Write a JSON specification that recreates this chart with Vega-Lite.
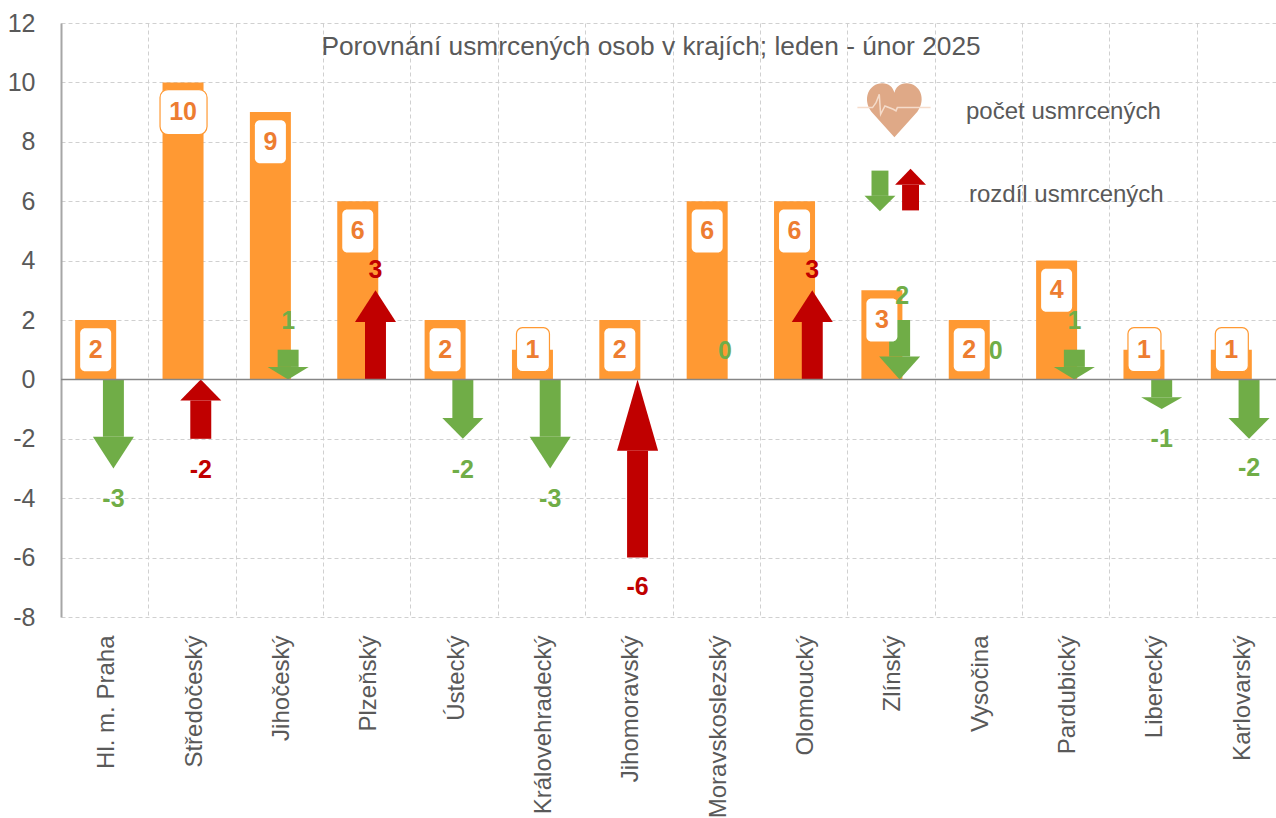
{"$schema":"https://vega.github.io/schema/vega-lite/v6.json","width":1215,"height":594,"autosize":"none","padding":{"left":61,"top":23,"right":0,"bottom":201},"background":"white","config":{"view":{"stroke":null},"font":"Liberation Sans"},
"datasets":{
"regions":[
{"region":"Hl. m. Praha","count":2,"boxY":1,"kind":"plain"},
{"region":"Středočeský","count":10,"boxY":9,"kind":"wide"},
{"region":"Jihočeský","count":9,"boxY":8,"kind":"plain"},
{"region":"Plzeňský","count":6,"boxY":5,"kind":"plain"},
{"region":"Ústecký","count":2,"boxY":1,"kind":"plain"},
{"region":"Královehradecký","count":1,"boxY":1,"kind":"ring"},
{"region":"Jihomoravský","count":2,"boxY":1,"kind":"plain"},
{"region":"Moravskoslezský","count":6,"boxY":5,"kind":"plain"},
{"region":"Olomoucký","count":6,"boxY":5,"kind":"plain"},
{"region":"Zlínský","count":3,"boxY":2,"kind":"plain"},
{"region":"Vysočina","count":2,"boxY":1,"kind":"plain"},
{"region":"Pardubický","count":4,"boxY":3,"kind":"plain"},
{"region":"Liberecký","count":1,"boxY":1,"kind":"ring"},
{"region":"Karlovarský","count":1,"boxY":1,"kind":"ring"}],
"arrows":[
{"id":"a0","dir":"down","diff":-3,"lx":0.6,"ly":-4.03,"sl":0.48,"sr":0.72,"base":0,"neck":-1.93,"hx":[0.365,0.6,0.835],"edge":[-1.93,-3,-1.93]},
{"id":"a1","dir":"up","diff":-2,"lx":1.6,"ly":-3.05,"sl":1.48,"sr":1.72,"base":-2,"neck":-0.71,"hx":[1.365,1.6,1.835],"edge":[-0.71,0,-0.71]},
{"id":"a2","dir":"down","diff":1,"lx":2.6,"ly":1.97,"sl":2.48,"sr":2.72,"base":1,"neck":0.42,"hx":[2.365,2.6,2.835],"edge":[0.42,0,0.42]},
{"id":"a3","dir":"up","diff":3,"lx":3.6,"ly":3.7,"sl":3.48,"sr":3.72,"base":0,"neck":1.93,"hx":[3.365,3.6,3.835],"edge":[1.93,3,1.93]},
{"id":"a4","dir":"down","diff":-2,"lx":4.6,"ly":-3.05,"sl":4.48,"sr":4.72,"base":0,"neck":-1.3,"hx":[4.365,4.6,4.835],"edge":[-1.3,-2,-1.3]},
{"id":"a5","dir":"down","diff":-3,"lx":5.6,"ly":-4.03,"sl":5.48,"sr":5.72,"base":0,"neck":-1.93,"hx":[5.365,5.6,5.835],"edge":[-1.93,-3,-1.93]},
{"id":"a6","dir":"up","diff":-6,"lx":6.6,"ly":-7,"sl":6.48,"sr":6.72,"base":-6,"neck":-2.4,"hx":[6.365,6.6,6.835],"edge":[-2.4,0,-2.4]},
{"id":"a7","dir":"down","diff":0,"lx":7.6,"ly":0.95},
{"id":"a8","dir":"up","diff":3,"lx":8.6,"ly":3.7,"sl":8.48,"sr":8.72,"base":0,"neck":1.93,"hx":[8.365,8.6,8.835],"edge":[1.93,3,1.93]},
{"id":"a9","dir":"down","diff":2,"lx":9.63,"ly":2.8,"sl":9.48,"sr":9.72,"base":2,"neck":0.77,"hx":[9.365,9.6,9.835],"edge":[0.77,0,0.77]},
{"id":"a10","dir":"down","diff":0,"lx":10.7,"ly":0.95},
{"id":"a11","dir":"down","diff":1,"lx":11.6,"ly":1.97,"sl":11.48,"sr":11.72,"base":1,"neck":0.42,"hx":[11.365,11.6,11.835],"edge":[0.42,0,0.42]},
{"id":"a12","dir":"down","diff":-1,"lx":12.6,"ly":-2,"sl":12.48,"sr":12.72,"base":0,"neck":-0.6,"hx":[12.365,12.6,12.835],"edge":[-0.6,-1,-0.6]},
{"id":"a13","dir":"down","diff":-2,"lx":13.6,"ly":-2.97,"sl":13.48,"sr":13.72,"base":0,"neck":-1.3,"hx":[13.365,13.6,13.835],"edge":[-1.3,-2,-1.3]},
{"id":"l0","dir":"down","sl":9.278,"sr":9.472,"base":7.03,"neck":6.18,"hx":[9.198,9.375,9.552],"edge":[6.18,5.66,6.18]},
{"id":"l1","dir":"up","sl":9.628,"sr":9.822,"base":5.69,"neck":6.55,"hx":[9.548,9.725,9.902],"edge":[6.55,7.09,6.55]}],
"heart":[{"px":9.54,"py":9.06}],
"heading":[{"text":"Porovnání usmrcených osob v krajích; leden - únor 2025","px":6.754,"py":11.2}],
"legend":[{"text":"počet usmrcených","px":10.36,"py":8.99},{"text":"rozdíl usmrcených","px":10.394,"py":6.22}]},
"layer":[
{"data":{"name":"regions"},"mark":{"type":"bar","width":41,"xOffset":-9,"color":"#FF9933"},
"encoding":{"x":{"field":"region","type":"nominal","sort":null,"scale":{"domain":["Hl. m. Praha","Středočeský","Jihočeský","Plzeňský","Ústecký","Královehradecký","Jihomoravský","Moravskoslezský","Olomoucký","Zlínský","Vysočina","Pardubický","Liberecký","Karlovarský"],"range":[0,1223],"paddingInner":0,"paddingOuter":0},"axis":{"title":null,"tickBand":"extent","ticks":false,"domain":false,"grid":true,"gridColor":"#D0D0D0","gridDash":[4,3],"gridWidth":1,"labelAngle":-90,"labelFontSize":24,"labelColor":"#595959","labelPadding":18,"labelOffset":2,"labelLimit":300,"labelFont":"Liberation Sans"}},
"y":{"field":"count","type":"quantitative","scale":{"domain":[-8,12],"nice":false},"axis":{"title":null,"values":[-8,-6,-4,-2,0,2,4,6,8,10,12],"labelExpr":"'' + datum.value","ticks":false,"domain":true,"domainColor":"#A6A6A6","domainWidth":2,"grid":true,"gridColor":"#D0D0D0","gridDash":[4,3],"gridWidth":1,"labelFontSize":25,"labelColor":"#595959","labelPadding":26,"labelFont":"Liberation Sans"}}}},
{"data":{"name":"arrows"},"transform":[{"filter":"datum.base != null"}],"mark":{"type":"rect"},
"encoding":{"x":{"field":"sl","type":"quantitative","scale":{"domain":[0,14],"range":[0,1223],"nice":false,"zero":false},"axis":null},"x2":{"field":"sr"},"y":{"field":"base","type":"quantitative"},"y2":{"field":"neck"},"color":{"field":"dir","type":"nominal","scale":{"domain":["down","up"],"range":["#70AD47","#C00000"]},"legend":null}}},
{"data":{"name":"arrows"},"transform":[{"filter":"datum.base != null"},{"flatten":["hx","edge"]}],"mark":{"type":"area","orient":"vertical","interpolate":"linear"},
"encoding":{"x":{"field":"hx","type":"quantitative","scale":{"domain":[0,14],"range":[0,1223],"nice":false,"zero":false},"axis":null},"y":{"field":"neck","type":"quantitative"},"y2":{"field":"edge"},"detail":{"field":"id"},"color":{"field":"dir","type":"nominal","scale":{"domain":["down","up"],"range":["#70AD47","#C00000"]},"legend":null}}},
{"data":{"values":[{"zero":0}]},"mark":{"type":"rule","color":"#868686","strokeWidth":1.5},"encoding":{"y":{"field":"zero","type":"quantitative"}}},
{"data":{"name":"regions"},"transform":[{"filter":"datum.kind == 'plain'"}],"mark":{"type":"rect","width":31,"height":43,"xOffset":-9,"color":"white","cornerRadius":5},
"encoding":{"x":{"field":"region","type":"nominal","sort":null,"scale":{"domain":["Hl. m. Praha","Středočeský","Jihočeský","Plzeňský","Ústecký","Královehradecký","Jihomoravský","Moravskoslezský","Olomoucký","Zlínský","Vysočina","Pardubický","Liberecký","Karlovarský"],"range":[0,1223],"paddingInner":0,"paddingOuter":0},"axis":null},"y":{"field":"boxY","type":"quantitative"}}},
{"data":{"name":"regions"},"transform":[{"filter":"datum.kind == 'ring'"}],"mark":{"type":"rect","width":33,"height":44,"xOffset":-8.5,"fill":"white","stroke":"#FF9933","strokeWidth":1.2,"cornerRadius":6},
"encoding":{"x":{"field":"region","type":"nominal","sort":null,"scale":{"domain":["Hl. m. Praha","Středočeský","Jihočeský","Plzeňský","Ústecký","Královehradecký","Jihomoravský","Moravskoslezský","Olomoucký","Zlínský","Vysočina","Pardubický","Liberecký","Karlovarský"],"range":[0,1223],"paddingInner":0,"paddingOuter":0},"axis":null},"y":{"field":"boxY","type":"quantitative"}}},
{"data":{"name":"regions"},"transform":[{"filter":"datum.kind == 'wide'"}],"mark":{"type":"rect","width":47,"height":45,"fill":"white","stroke":"#FF9933","strokeWidth":1.2,"cornerRadius":8,"xOffset":-8.5},
"encoding":{"x":{"field":"region","type":"nominal","sort":null,"scale":{"domain":["Hl. m. Praha","Středočeský","Jihočeský","Plzeňský","Ústecký","Královehradecký","Jihomoravský","Moravskoslezský","Olomoucký","Zlínský","Vysočina","Pardubický","Liberecký","Karlovarský"],"range":[0,1223],"paddingInner":0,"paddingOuter":0},"axis":null},"y":{"field":"boxY","type":"quantitative"}}},
{"data":{"name":"regions"},"mark":{"type":"text","xOffset":-9,"fontSize":25,"fontWeight":"bold","color":"#ED7D31","font":"Liberation Sans","baseline":"middle"},
"encoding":{"x":{"field":"region","type":"nominal","sort":null,"scale":{"domain":["Hl. m. Praha","Středočeský","Jihočeský","Plzeňský","Ústecký","Královehradecký","Jihomoravský","Moravskoslezský","Olomoucký","Zlínský","Vysočina","Pardubický","Liberecký","Karlovarský"],"range":[0,1223],"paddingInner":0,"paddingOuter":0},"axis":null},"y":{"field":"boxY","type":"quantitative"},"text":{"field":"count","type":"quantitative"}}},
{"data":{"name":"arrows"},"transform":[{"filter":"datum.diff != null"}],"mark":{"type":"text","fontSize":25,"fontWeight":"bold","font":"Liberation Sans","baseline":"middle"},
"encoding":{"x":{"field":"lx","type":"quantitative","scale":{"domain":[0,14],"range":[0,1223],"nice":false,"zero":false},"axis":null},"y":{"field":"ly","type":"quantitative"},"text":{"field":"diff","type":"nominal"},"color":{"field":"dir","type":"nominal","scale":{"domain":["down","up"],"range":["#70AD47","#C00000"]},"legend":null}}},
{"data":{"name":"heading"},"mark":{"type":"text","fontSize":26.3,"color":"#595959","font":"Liberation Sans","align":"center","baseline":"middle"},
"encoding":{"x":{"field":"px","type":"quantitative","scale":{"domain":[0,14],"range":[0,1223],"nice":false,"zero":false},"axis":null},"y":{"field":"py","type":"quantitative"},"text":{"field":"text"}}},
{"data":{"name":"legend"},"mark":{"type":"text","fontSize":24,"color":"#595959","font":"Liberation Sans","align":"left","baseline":"middle"},
"encoding":{"x":{"field":"px","type":"quantitative","scale":{"domain":[0,14],"range":[0,1223],"nice":false,"zero":false},"axis":null},"y":{"field":"py","type":"quantitative"},"text":{"field":"text"}}},
{"data":{"name":"heart"},"mark":{"type":"point","filled":true,"size":2916,"opacity":1,"color":"#DFA987","shape":"M0,1 L-0.85,0.05 C-1.2,-0.4 -0.95,-1 -0.45,-1 C-0.2,-1 -0.05,-0.85 0,-0.65 C0.05,-0.85 0.2,-1 0.45,-1 C0.95,-1 1.2,-0.4 0.85,0.05 Z"},
"encoding":{"x":{"field":"px","type":"quantitative","scale":{"domain":[0,14],"range":[0,1223],"nice":false,"zero":false},"axis":null},"y":{"field":"py","type":"quantitative"}}},
{"data":{"name":"heart"},"mark":{"type":"point","filled":false,"size":2916,"opacity":1,"color":"#F5DCCB","strokeWidth":1.5,"shape":"M-1.37,-0.1 L-0.81,-0.1 L-0.68,-0.28 L-0.56,-0.59 L-0.51,0.15 L-0.35,-0.16 L-0.04,-0.04 L0.06,0.02 L0.11,-0.1 L1.34,-0.1"},
"encoding":{"x":{"field":"px","type":"quantitative","scale":{"domain":[0,14],"range":[0,1223],"nice":false,"zero":false},"axis":null},"y":{"field":"py","type":"quantitative"}}}
],
"resolve":{"scale":{"x":"independent","color":"independent"}}}
